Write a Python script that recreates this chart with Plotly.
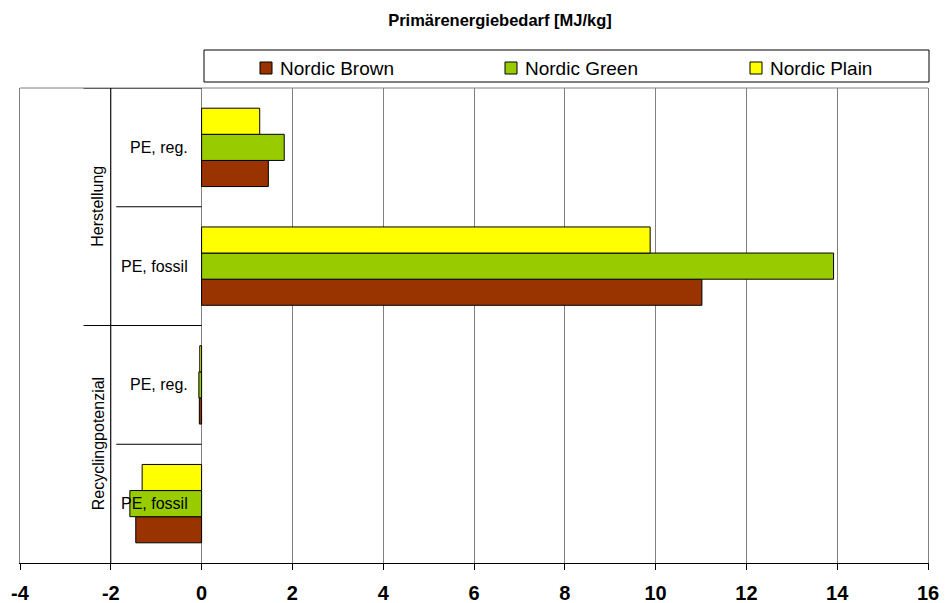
import plotly.graph_objects as go

# ---- data -------------------------------------------------------------
groups = ["Herstellung", "Herstellung", "Recyclingpotenzial", "Recyclingpotenzial"]
items = ["PE, reg.", "PE, fossil", "PE, reg.", "PE, fossil"]

series_names = ["Nordic Brown", "Nordic Green", "Nordic Plain"]
series_colors = ["#993300", "#99CC00", "#FFFF00"]
nordic_brown = [1.47, 11.02, -0.05, -1.45]
nordic_green = [1.82, 13.92, -0.06, -1.58]
nordic_plain = [1.28, 9.88, -0.04, -1.31]
series_values = [nordic_brown, nordic_green, nordic_plain]

x_ticks = [-4, -2, 0, 2, 4, 6, 8, 10, 12, 14, 16]
title_text = "Primärenergiebedarf [MJ/kg]"

# ---- layout geometry ----------------------------------------------------
W, H = 948, 603
ML, MR, MT, MB = 20, 20, 88, 40
PW, PH = W - ML - MR, H - MT - MB
FONT = "Arial, Liberation Sans, sans-serif"


def px_x(p):
    return (p - ML) / PW


def px_y(p):
    return 1 - (p - MT) / PH


keys = [f"{g} | {i}" for g, i in zip(groups, items)]
cat_order = keys[::-1]  # first row drawn at the top
n = len(keys)

fig = go.Figure()
for name, color, vals in zip(series_names, series_colors, series_values):
    fig.add_trace(go.Bar(
        y=keys, x=vals, name=name, orientation="h",
        marker=dict(color=color, line=dict(color="#000000", width=1)),
        showlegend=False,
    ))

shapes = []
annotations = []

# top edge of the plot frame (grey); bottom axis line comes from the x axis
shapes.append(dict(type="line", xref="paper", yref="paper", x0=0, x1=1, y0=1, y1=1,
                   line=dict(color="#808080", width=1)))

# category-axis decoration: divider between label levels and row separators
shapes.append(dict(type="line", xref="x", yref="paper", x0=-2, x1=-2, y0=0, y1=1,
                   line=dict(color="#000000", width=1)))
for pos in range(1, n + 1):
    yb = pos - 0.5  # boundary above category index pos-1
    above = cat_order[pos] if pos < n else None
    below = cat_order[pos - 1]
    group_break = above is None or groups[keys.index(above)] != groups[keys.index(below)]
    x0 = -2.6 if group_break else -1.88
    shapes.append(dict(type="line", xref="x", yref="y", x0=x0, x1=0, y0=yb, y1=yb,
                       line=dict(color="#000000", width=1)))

# item labels
for key, item in zip(keys, items):
    annotations.append(dict(x=0, y=key, xref="x", yref="y", text=item,
                            xanchor="right", yanchor="middle", xshift=-12,
                            showarrow=False, font=dict(family=FONT, size=16, color="#000000")))

# group labels, rotated
seen = []
for g in groups:
    if g in seen:
        continue
    seen.append(g)
    idx = [cat_order.index(k) for k, gg in zip(keys, groups) if gg == g]
    ymid = (min(idx) + max(idx)) / 2
    annotations.append(dict(x=px_x(98), y=ymid, xref="paper", yref="y", text=g,
                            textangle=-90, xanchor="center", yanchor="middle",
                            showarrow=False, font=dict(family=FONT, size=16, color="#000000")))

# legend box with entries
shapes.append(dict(type="rect", xref="paper", yref="paper",
                   x0=px_x(204), x1=px_x(929), y0=px_y(82), y1=px_y(50),
                   line=dict(color="#000000", width=1), fillcolor="#FFFFFF"))
legend_centers = [266, 511, 756]
for cx, name, color in zip(legend_centers, series_names, series_colors):
    shapes.append(dict(type="rect", xref="paper", yref="paper",
                       x0=px_x(cx - 6), x1=px_x(cx + 6), y0=px_y(74), y1=px_y(62),
                       line=dict(color="#000000", width=1), fillcolor=color))
    annotations.append(dict(x=px_x(cx + 12), y=px_y(68), xref="paper", yref="paper",
                            text=name, xanchor="left", yanchor="middle", showarrow=False,
                            font=dict(family=FONT, size=19, color="#000000")))

fig.update_layout(
    width=W, height=H,
    margin=dict(l=ML, r=MR, t=MT, b=MB, autoexpand=False),
    paper_bgcolor="#FFFFFF", plot_bgcolor="#FFFFFF",
    barmode="group", bargap=0.34, bargroupgap=0,
    title=dict(text=title_text, xref="container", yref="container",
               x=500 / W, y=1 - 20.5 / H, xanchor="center", yanchor="middle",
               font=dict(family=FONT, size=16.5, color="#000000", weight="bold")),
    xaxis=dict(range=[-4, 16], tickvals=x_ticks, ticktext=[str(t) for t in x_ticks],
               automargin=False,
               showgrid=True, gridcolor="#808080", gridwidth=1,
               zeroline=True, zerolinecolor="#808080", zerolinewidth=1,
               showline=True, linecolor="#000000", linewidth=1,
               ticks="outside", ticklen=6, tickcolor="#000000", tickwidth=1,
               ticklabelstandoff=6,
               tickfont=dict(family=FONT, size=20, color="#000000", weight="bold")),
    yaxis=dict(type="category", categoryorder="array", categoryarray=cat_order,
               range=[-0.5, n - 0.5], showticklabels=False, showgrid=False,
               automargin=False,
               zeroline=False, showline=True, mirror=True, linecolor="#808080",
               linewidth=1, ticks=""),
    shapes=shapes, annotations=annotations,
)

fig.write_html("out.html")
